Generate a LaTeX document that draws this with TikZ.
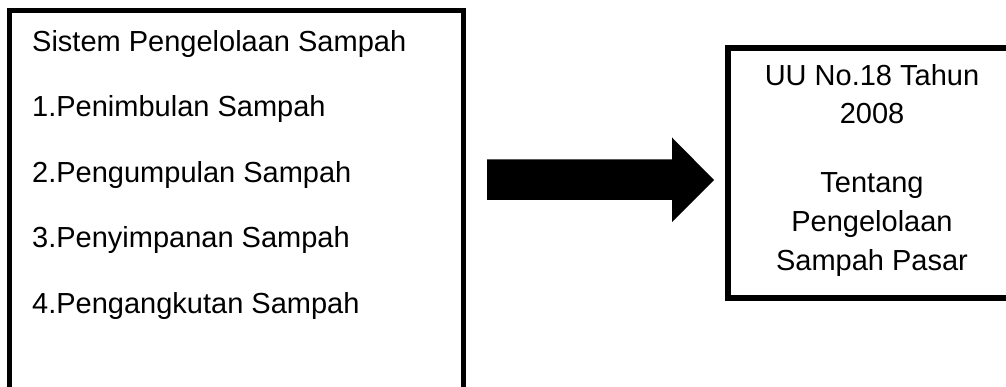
\documentclass[tikz,border=0pt]{standalone}
\usepackage{fontspec}
\setmainfont{Liberation Sans}
\begin{document}
\begin{tikzpicture}[x=1pt,y=-1pt,
  frame/.style={draw=black,line width=5.5pt,outer sep=0pt,inner sep=0pt,anchor=north west},
  txt/.style={font=\fontsize{29}{34}\selectfont,inner sep=0pt},
  ltxt/.style={txt,anchor=base west},
  rtxt/.style={txt,anchor=base}]
\useasboundingbox (0,0) rectangle (1006,387);
\node[frame,minimum width=454pt,minimum height=400pt] (lbox) at (9.5,10.5) {};
\node[frame,minimum width=291pt,minimum height=250pt] (rbox) at (728,48) {};
% left text
\node[ltxt] (l0) at (32,52) {Sistem Pengelolaan Sampah};
\node[ltxt] (l1) at (32,117) {1.Penimbulan Sampah};
\node[ltxt] (l2) at (32,182.5) {2.Pengumpulan Sampah};
\node[ltxt] (l3) at (32,248) {3.Penyimpanan Sampah};
\node[ltxt] (l4) at (32,313.5) {4.Pengangkutan Sampah};
% right text
\node[rtxt] (r0) at (872,86) {UU No.18 Tahun};
\node[rtxt] (r1) at (872,124) {2008};
\node[rtxt] (r2) at (872,193) {Tentang};
\node[rtxt] (r3) at (872,232) {Pengelolaan};
\node[rtxt] (r4) at (872,270) {Sampah Pasar};
% block arrow
\coordinate (a0) at (487,180);
\coordinate (a1) at (714,180);
\fill[black] (a0) ++(0,-20.5) -- ++(185,0) -- ++(0,-22) -- (a1) -- ++(-42,42) -- ++(0,-22) -- ++(-185,0) -- cycle;
\end{tikzpicture}
\end{document}
